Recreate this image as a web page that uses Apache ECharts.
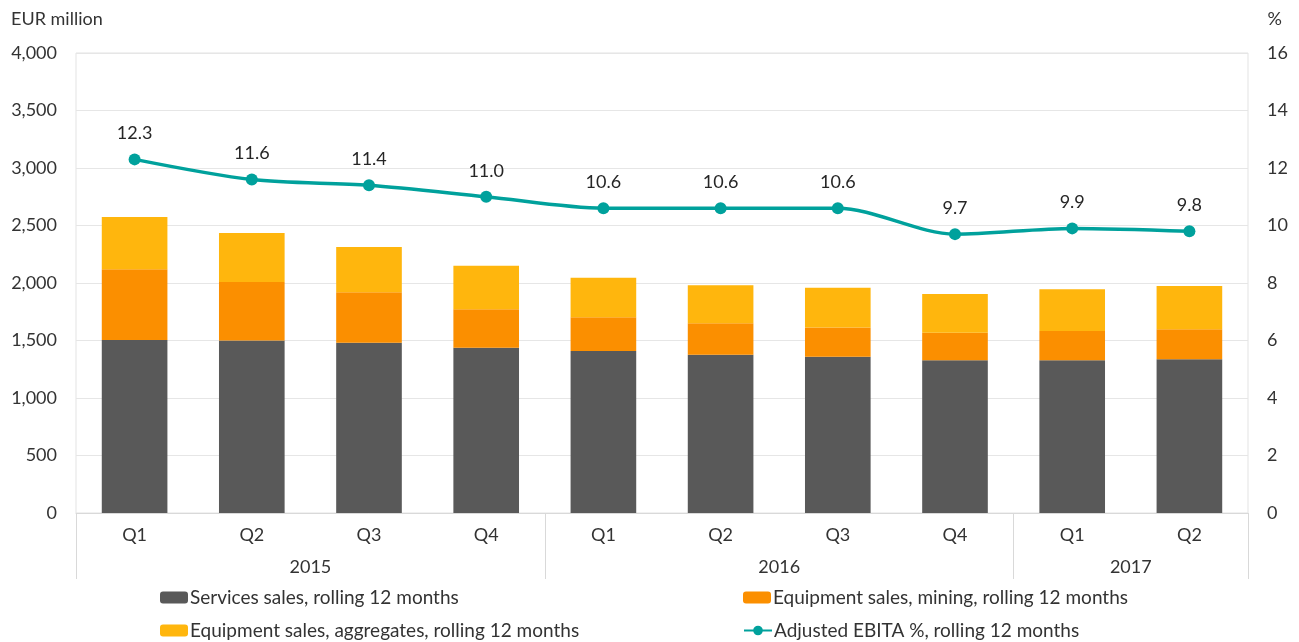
<!DOCTYPE html>
<html>
<head>
<meta charset="utf-8">
<script src="https://cdn.jsdelivr.net/npm/echarts@6/dist/echarts.min.js"></script>
<style>
  html, body { margin: 0; padding: 0; background: #fff; }
  #chart { width: 1299px; height: 642px; }
</style>
</head>
<body>
<div id="chart"></div>
<script>
// rolling 12 months, EUR million
const quarters = ['Q1', 'Q2', 'Q3', 'Q4', 'Q1', 'Q2', 'Q3', 'Q4', 'Q1', 'Q2']
const yearLabels = { 2: '2015', 6: '2016', 9: '2017' } // year label sits at the middle of its quarters
const yearBreaks = [0, 4, 8]
const services = [1504, 1500, 1480, 1437, 1409, 1377, 1359, 1328, 1328, 1337]
const mining = [616, 509, 440, 335, 294, 272, 255, 240, 255, 260]
const aggregates = [454, 426, 393, 377, 343, 331, 345, 336, 362, 377]
const ebitaPct = [12.3, 11.6, 11.4, 11.0, 10.6, 10.6, 10.6, 9.7, 9.9, 9.8]

const FONT = 'Lato, "Open Sans", sans-serif'
const TEXT = '#333333'
const LINE = '#d9d9d9'

const chart = echarts.init(document.getElementById('chart'))

function legendAt(name, left, top) {
  return {
    data: [name],
    left: left,
    top: top,
    padding: 0,
    itemWidth: 28,
    itemHeight: 12,
    itemGap: 2,
    selectedMode: false,
    textStyle: { fontFamily: FONT, fontSize: 19, color: TEXT, padding: [0, 0, 0, -3] }
  }
}

chart.setOption({
  animation: false,
  textStyle: { fontFamily: FONT },
  title: [
    { text: 'EUR million', left: 6, top: 5, textStyle: { fontFamily: FONT, fontSize: 18, fontWeight: 'normal', color: TEXT } },
    { text: '%', right: 12, top: 5, textStyle: { fontFamily: FONT, fontSize: 18, fontWeight: 'normal', color: TEXT } }
  ],
  legend: [
    legendAt('Services sales, rolling 12 months', 160, 588),
    legendAt('Equipment sales, mining, rolling 12 months', 743, 588),
    legendAt('Equipment sales, aggregates, rolling 12 months', 160, 621),
    legendAt('Adjusted EBITA %, rolling 12 months', 743, 621)
  ],
  grid: {
    left: 76,
    right: 51,
    top: 53,
    bottom: 129,
    show: true,
    borderColor: '#e3e3e3',
    borderWidth: 1
  },
  xAxis: [
    {
      type: 'category',
      data: quarters,
      position: 'bottom',
      axisLine: { lineStyle: { color: LINE } },
      axisTick: { show: false },
      axisLabel: { fontSize: 18, color: TEXT, margin: 13 }
    },
    {
      // year separators hanging below the axis
      type: 'category',
      data: quarters,
      position: 'bottom',
      offset: 0,
      axisLine: { show: false },
      axisLabel: { show: false },
      axisTick: {
        show: true,
        length: 66,
        interval: function (index) { return yearBreaks.indexOf(index) > -1 },
        lineStyle: { color: LINE }
      }
    },
    {
      type: 'value',
      min: 0,
      max: quarters.length,
      interval: 1,
      position: 'bottom',
      offset: 0,
      axisLine: { show: false },
      axisTick: { show: false },
      splitLine: { show: false },
      axisLabel: {
        fontSize: 18,
        color: TEXT,
        margin: 45,
        showMinLabel: true,
        showMaxLabel: true,
        formatter: function (v) { return yearLabels[v] || '' }
      }
    }
  ],
  yAxis: [
    {
      type: 'value',
      min: 0,
      max: 4000,
      interval: 500,
      axisLine: { show: false },
      axisTick: { show: false },
      splitLine: { lineStyle: { color: '#e6e6e6' } },
      axisLabel: {
        fontSize: 18,
        color: TEXT,
        margin: 19,
        formatter: function (v) { return v.toLocaleString('en-US') }
      }
    },
    {
      type: 'value',
      min: 0,
      max: 16,
      interval: 2,
      axisLine: { show: false },
      axisTick: { show: false },
      splitLine: { show: false },
      axisLabel: { fontSize: 18, color: TEXT, margin: 19, align: 'left' }
    }
  ],
  series: [
    {
      name: 'Services sales, rolling 12 months',
      type: 'bar',
      stack: 'sales',
      barCategoryGap: '44%',
      itemStyle: { color: '#595959' },
      data: services
    },
    {
      name: 'Equipment sales, mining, rolling 12 months',
      type: 'bar',
      stack: 'sales',
      itemStyle: { color: '#fb8f00' },
      data: mining
    },
    {
      name: 'Equipment sales, aggregates, rolling 12 months',
      type: 'bar',
      stack: 'sales',
      itemStyle: { color: '#ffb60d' },
      data: aggregates
    },
    {
      name: 'Adjusted EBITA %, rolling 12 months',
      type: 'line',
      yAxisIndex: 1,
      smooth: 0.3,
      symbol: 'circle',
      symbolSize: 12,
      itemStyle: { color: '#00a19c' },
      lineStyle: { color: '#00a19c', width: 3.5 },
      label: {
        show: true,
        position: 'top',
        distance: 11,
        fontSize: 18,
        color: '#262626',
        formatter: function (p) { return p.value.toFixed(1) }
      },
      data: ebitaPct
    }
  ]
})
</script>
</body>
</html>
